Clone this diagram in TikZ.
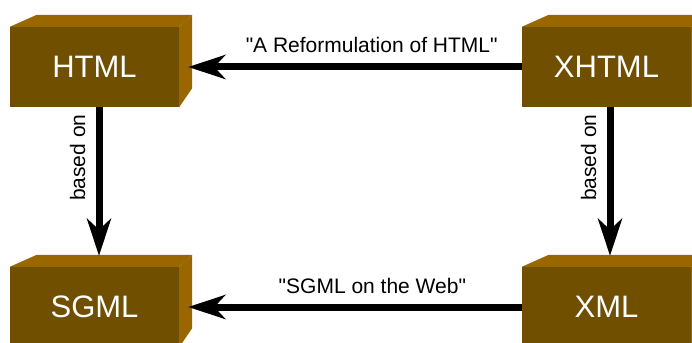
\documentclass[tikz,border=0pt]{standalone}
\usepackage{fontspec}
\setmainfont{Liberation Sans}[Ligatures=TeXOff]
\usetikzlibrary{arrows.meta,calc}
\definecolor{frontc}{RGB}{113,79,0}
\definecolor{topc}{RGB}{153,102,0}
\tikzset{
  box/.style={rectangle, minimum width=169pt, minimum height=80pt, inner sep=0pt,
    fill=frontc, text=white, font=\fontsize{31}{31}\selectfont},
  conn/.style={line width=7pt, -{Stealth[length=37pt, width=24pt, inset=11pt]}},
  lbl/.style={font=\fontsize{21}{21}\selectfont, inner sep=0pt, anchor=base, text=black}
}
\newcommand\cubefaces[1]{%
  \fill[topc] (#1.north west) -- ++(27,-12) -- ($(#1.north east)+(13,-12)$) -- (#1.north east) -- cycle;
  \fill[topc] (#1.north east) -- ++(13,-12) -- ($(#1.south east)+(13,-19)$) -- (#1.south east) -- cycle;
}
\begin{document}
\begin{tikzpicture}[x=1pt, y=-1pt]
\useasboundingbox (0,0) rectangle (692,342);
\clip (0,0) rectangle (692,342);
\node[box] (html) at (94.5,67) {HTML};
\node[box] (xhtml) at (606.5,67) {XHTML};
\node[box] (sgml) at (94.5,307) {SGML};
\node[box] (xml) at (606.5,307) {XML};
\cubefaces{html}
\cubefaces{xhtml}
\cubefaces{sgml}
\cubefaces{xml}
\draw[conn] (xhtml.west) -- ([xshift=9pt]html.east)
  node[lbl, pos=0.45, yshift=14pt] {"A Reformulation of HTML"};
\draw[conn] (xml.west) -- ([xshift=9pt]sgml.east)
  node[lbl, pos=0.448, yshift=14pt] {"SGML on the Web"};
\draw[conn] ([xshift=4.5pt]html.south) -- ([xshift=4.5pt,yshift=11pt]sgml.north)
  node[lbl, pos=0.34, xshift=-14pt, rotate=90] {based on};
\draw[conn] ([xshift=3.5pt]xhtml.south) -- ([xshift=3.5pt,yshift=11pt]xml.north)
  node[lbl, pos=0.34, xshift=-14pt, rotate=90] {based on};
\end{tikzpicture}
\end{document}
